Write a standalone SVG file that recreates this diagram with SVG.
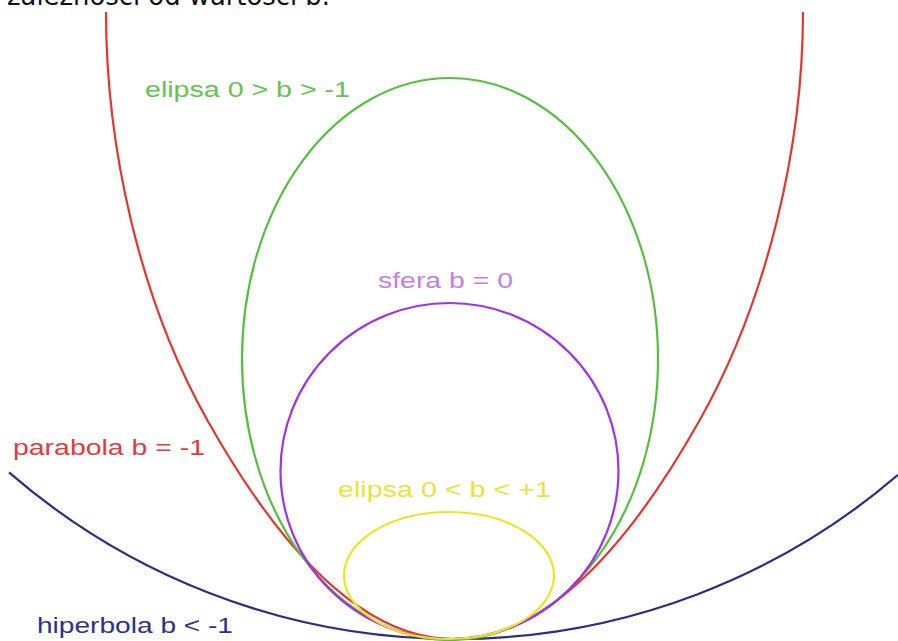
<svg xmlns="http://www.w3.org/2000/svg" width="898" height="641" viewBox="0 0 898 641">
  <style>
    .curve { fill: none; stroke-width: 2.2; }
    .lbl { font-family: "Liberation Sans", Arial, sans-serif; font-size: 22px; }
    .head { font-family: "DejaVu Sans", Verdana, sans-serif; font-size: 26px; fill: #111; }
  </style>
  <rect x="0" y="0" width="898" height="641" fill="#ffffff"/>
  <text class="head" x="7" y="5" textLength="323" lengthAdjust="spacingAndGlyphs">zależności od wartości b.</text>

  <g id="hiperbola">
    <path class="curve" stroke="#2a2f86" stroke-width="2.5" d="M9,472.3 A680,680 0 0 0 898,474.9"/>
    <text class="lbl" fill="#2c3190" x="37" y="633" textLength="196" lengthAdjust="spacingAndGlyphs">hiperbola b &lt; -1</text>
  </g>

  <g id="parabola">
    <path class="curve" stroke="#e5352d" d="M106,12 C106,145 138.9,298.7 207.5,420.5 Q453.5,857.5 699.5,420.5 C768.1,298.7 803,145 803,12"/>
    <text class="lbl" fill="#e23b3b" x="13" y="455" textLength="192" lengthAdjust="spacingAndGlyphs">parabola b = -1</text>
  </g>

  <g id="elipsa-wydluzona">
    <ellipse class="curve" stroke="#52c23a" cx="450" cy="359" rx="208" ry="281"/>
    <text class="lbl" fill="#62c54c" x="145" y="97" textLength="205" lengthAdjust="spacingAndGlyphs">elipsa 0 &gt; b &gt; -1</text>
  </g>

  <g id="sfera">
    <ellipse class="curve" stroke="#a330ea" cx="449.5" cy="471" rx="169" ry="168"/>
    <text class="lbl" fill="#c77ee8" x="378" y="288" textLength="135" lengthAdjust="spacingAndGlyphs">sfera b = 0</text>
  </g>

  <g id="elipsa-splaszczona">
    <ellipse class="curve" stroke="#f3e31f" stroke-width="2.5" cx="449" cy="575.5" rx="105" ry="63.5"/>
    <text class="lbl" fill="#eee238" x="338" y="497" textLength="213" lengthAdjust="spacingAndGlyphs">elipsa 0 &lt; b &lt; +1</text>
  </g>

  <g id="connectors"/>
</svg>
